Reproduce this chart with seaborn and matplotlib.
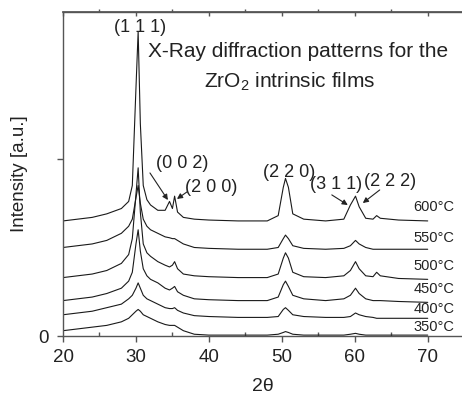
import numpy as np
import pandas as pd
import matplotlib
matplotlib.use("Agg")
import matplotlib.pyplot as plt
import seaborn as sns

# 2-theta sampling positions (degrees)
two_theta = [20, 22, 24, 26, 28, 29, 29.5, 30.0, 30.3, 30.6, 31, 31.5, 32, 33, 34,
             34.6, 35.0, 35.3, 35.7, 36.5, 38, 40, 44, 48, 49.5, 50.2, 50.5, 50.9,
             51.5, 53, 56, 58.5, 59.4, 60.1, 60.6, 61.5, 62.5, 63, 63.5, 66, 70]

# Intensities (a.u., offset per annealing temperature)
i_600 = [0.65, 0.66, 0.67, 0.69, 0.72, 0.76, 0.85, 1.40, 1.72, 1.20, 0.85, 0.77, 0.74, 0.71, 0.71,
         0.76, 0.72, 0.79, 0.70, 0.67, 0.66, 0.655, 0.65, 0.65, 0.68, 0.84, 0.89, 0.84,
         0.69, 0.66, 0.65, 0.66, 0.74, 0.79, 0.73, 0.665, 0.66, 0.68, 0.665, 0.655, 0.65]
i_550 = [0.50, 0.51, 0.52, 0.54, 0.58, 0.62, 0.66, 0.78, 0.85, 0.75, 0.66, 0.62, 0.60, 0.58, 0.56,
         0.555, 0.55, 0.55, 0.54, 0.52, 0.50, 0.495, 0.49, 0.49, 0.50, 0.55, 0.57, 0.55,
         0.51, 0.495, 0.49, 0.495, 0.51, 0.54, 0.52, 0.50, 0.49, 0.49, 0.49, 0.49, 0.49]
i_500 = [0.33, 0.34, 0.35, 0.37, 0.41, 0.46, 0.55, 0.80, 0.95, 0.70, 0.52, 0.47, 0.45, 0.42, 0.40,
         0.39, 0.40, 0.42, 0.38, 0.35, 0.34, 0.335, 0.33, 0.33, 0.35, 0.44, 0.47, 0.44,
         0.36, 0.335, 0.33, 0.34, 0.37, 0.42, 0.38, 0.34, 0.335, 0.36, 0.34, 0.325, 0.32]
i_450 = [0.20, 0.21, 0.22, 0.24, 0.27, 0.31, 0.36, 0.52, 0.60, 0.48, 0.38, 0.34, 0.32, 0.30, 0.27,
         0.26, 0.27, 0.28, 0.25, 0.23, 0.21, 0.205, 0.20, 0.20, 0.22, 0.29, 0.31, 0.28,
         0.23, 0.21, 0.20, 0.21, 0.23, 0.27, 0.24, 0.21, 0.20, 0.20, 0.20, 0.195, 0.19]
i_400 = [0.12, 0.13, 0.14, 0.16, 0.18, 0.21, 0.23, 0.27, 0.30, 0.27, 0.23, 0.21, 0.20, 0.18, 0.16,
         0.155, 0.155, 0.16, 0.145, 0.13, 0.115, 0.11, 0.105, 0.105, 0.11, 0.15, 0.16, 0.145,
         0.12, 0.11, 0.105, 0.105, 0.11, 0.13, 0.12, 0.11, 0.105, 0.10, 0.10, 0.10, 0.10]
i_350 = [0.03, 0.04, 0.05, 0.06, 0.08, 0.10, 0.12, 0.14, 0.15, 0.14, 0.12, 0.11, 0.10, 0.08, 0.065,
         0.06, 0.06, 0.06, 0.05, 0.03, 0.01, 0.005, 0.005, 0.005, 0.01, 0.02, 0.025, 0.02,
         0.01, 0.005, 0.005, 0.005, 0.01, 0.015, 0.01, 0.005, 0.005, 0.005, 0.005, 0.005, 0.005]

temperatures = ["600°C", "550°C", "500°C", "450°C", "400°C", "350°C"]
series = [i_600, i_550, i_500, i_450, i_400, i_350]
label_y = [0.729, 0.554, 0.395, 0.266, 0.153, 0.051]

peak_labels = ["(1 1 1)", "(0 0 2)", "(2 0 0)", "(2 2 0)", "(3 1 1)", "(2 2 2)"]
peak_label_xy = [(30.55, 1.743), (36.3, 0.977), (40.3, 0.836),
                 (50.96, 0.921), (57.4, 0.853), (64.9, 0.87)]
arrows = [((31.92, 0.921), (34.38, 0.768)),
          ((37.0, 0.814), (35.62, 0.774)),
          ((56.85, 0.797), (59.04, 0.740)),
          ((63.42, 0.825), (61.1, 0.751))]

sns.set_theme(style="ticks")
plt.rcParams["font.family"] = ["Liberation Sans", "DejaVu Sans"]
plt.rcParams["mathtext.fontset"] = "custom"
plt.rcParams["mathtext.rm"] = "Liberation Sans"
plt.rcParams["mathtext.it"] = "Liberation Sans:italic"

frames = []
for t, vals in zip(temperatures, series):
    frames.append(pd.DataFrame({"2theta": two_theta, "intensity": vals, "T": t}))
df = pd.concat(frames, ignore_index=True)

line_col = "#1a1a1a"
axis_col = "#555555"
text_col = "#222222"

fig = plt.figure(figsize=(4.62, 3.94), dpi=100)
ax = fig.add_axes([0.1364, 0.1472, 1.0 - 0.1364, 0.9695 - 0.1472])

sns.lineplot(data=df, x="2theta", y="intensity", hue="T", hue_order=temperatures,
             palette=[line_col] * len(temperatures), linewidth=0.8, legend=False,
             estimator=None, ax=ax)

ax.set_xlim(20, 74.7)
ax.set_ylim(0, 1.83)

ax.set_xticks([20, 30, 40, 50, 60, 70])
ax.set_xticks([25, 35, 45, 55, 65], minor=True)
ax.set_yticks([0, 1])
ax.set_yticklabels(["0", ""])

for side in ["left", "top", "bottom"]:
    ax.spines[side].set_color(axis_col)
    ax.spines[side].set_linewidth(1.0)
ax.spines["right"].set_visible(False)

ax.tick_params(axis="x", which="major", direction="out", length=4, width=1,
               color=axis_col, labelsize=13.5, labelcolor=text_col, pad=5)
ax.tick_params(axis="x", which="minor", direction="in", length=3, width=1, color=axis_col)
ax.tick_params(axis="y", which="major", direction="out", length=4, width=1,
               color=axis_col, labelsize=13.5, labelcolor=text_col, pad=6)

top = ax.secondary_xaxis("top")
top.set_xticks([20, 30, 40, 50, 60, 70])
top.set_xticks([25, 35, 45, 55, 65], minor=True)
top.tick_params(which="major", direction="in", length=3, width=1, color=axis_col, labeltop=False)
top.tick_params(which="minor", direction="out", length=2, width=1, color=axis_col)
top.spines["top"].set_color(axis_col)

ax.set_xlabel("2θ", fontsize=14, color=text_col, labelpad=9)
ax.set_ylabel("Intensity [a.u.]", fontsize=13.5, color=text_col, labelpad=8)

ax.text(52.26, 1.605, "X-Ray diffraction patterns for the", ha="center", va="center",
        fontsize=15, color=text_col)
ax.text(51.1, 1.435, r"ZrO$_2$ intrinsic films", ha="center", va="center",
        fontsize=15, color=text_col)

for lab, (x, y) in zip(peak_labels, peak_label_xy):
    ax.text(x, y, lab, ha="center", va="center", fontsize=13, color=text_col)

for (x0, y0), (x1, y1) in arrows:
    ax.annotate("", xy=(x1, y1), xytext=(x0, y0),
                arrowprops=dict(arrowstyle="-|>", color=text_col, lw=0.8,
                                mutation_scale=8, shrinkA=0, shrinkB=0))

for t, y in zip(temperatures, label_y):
    ax.text(73.7, y, t, ha="right", va="center", fontsize=10.5, color=text_col)

fig.savefig("out.png", dpi=100)
